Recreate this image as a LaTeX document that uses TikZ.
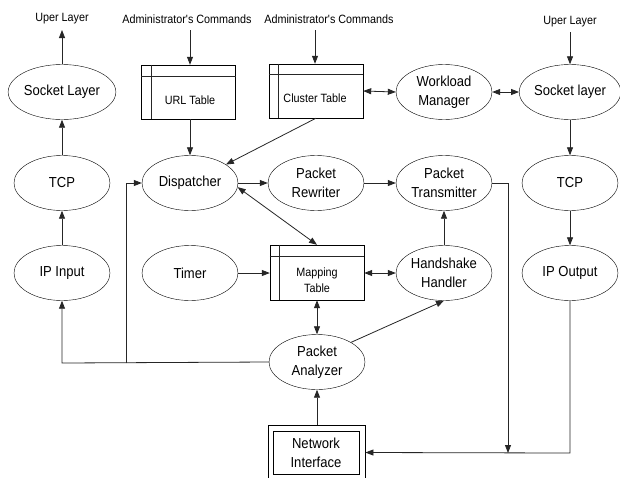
\documentclass[tikz,border=0pt]{standalone}
\usepackage{fontspec}
\newfontfamily\lsans{Liberation Sans}[FakeStretch=0.9]
\usetikzlibrary{shapes.geometric,arrows.meta}
\tikzset{
  ell/.style={draw, ellipse, minimum width=96pt, minimum height=55pt, inner sep=0pt, align=center, font=\lsans\fontsize{14.5}{19}\selectfont},
  tbl/.style={draw, rectangle, minimum width=94pt, minimum height=54pt, inner sep=0pt},
  tbltext/.style={inner sep=0pt, align=center, font=\lsans\fontsize{12}{16}\selectfont},
  small/.style={inner sep=0pt, font=\lsans\fontsize{12}{13}\selectfont},
  conn/.style={line width=0.8pt, draw=black!85},
  arr/.style={conn, -{Triangle[length=8pt,width=6pt]}},
  darr/.style={conn, {Triangle[length=8pt,width=6pt]}-{Triangle[length=8pt,width=6pt]}},
}
\begin{document}
\begin{tikzpicture}[x=1pt,y=-1pt]
\clip (0,0) rectangle (620,477);
\fill[white] (0,0) rectangle (620,477);

% top texts
\node[small] (upl) at (62,19) {Uper Layer};
\node[small] (adm1) at (187,19) {Administrator's Commands};
\node[small] (adm2) at (329,19) {Administrator's Commands};
\node[small] (upr) at (570,22) {Uper Layer};
\coordinate (uplend) at (62,30);
\coordinate (adm1s) at (190,30);
\coordinate (adm2s) at (315,30);
\coordinate (uprs) at (570,32);

% left column
\node[ell] (sockl) at (62,92) {Socket Layer};
\node[ell] (tcpl) at (62,183) {TCP};
\node[ell] (ipin) at (62,273) {IP Input};

% tables
\node[tbl] (url) at (188.5,92) {};
\draw[conn] ([xshift=10pt]url.north west) -- ([xshift=10pt]url.south west);
\draw[conn] ([yshift=-12pt]url.north west) -- ([yshift=-12pt]url.north east);
\node[tbltext] (urlt) at (190,100) {URL Table};

\node[tbl] (clust) at (316,91) {};
\draw[conn] ([xshift=10pt]clust.north west) -- ([xshift=10pt]clust.south west);
\draw[conn] ([yshift=-11pt]clust.north west) -- ([yshift=-11pt]clust.north east);
\node[tbltext] (clustt) at (315,98) {Cluster Table};

\node[tbl, minimum height=55pt] (map) at (317,272.5) {};
\draw[conn] ([xshift=10pt]map.north west) -- ([xshift=10pt]map.south west);
\draw[conn] ([yshift=-12pt]map.north west) -- ([yshift=-12pt]map.north east);
\node[tbltext] (mapt) at (317,280) {Mapping\\Table};

% middle
\node[ell] (wm) at (444,92) {Workload\\Manager};
\node[ell] (sockr) at (570,92) {Socket layer};
\node[ell] (disp) at (190,183) {Dispatcher};
\node[ell] (prw) at (316,183) {Packet\\Rewriter};
\node[ell] (ptx) at (444,183) {Packet\\Transmitter};
\node[ell] (tcpr) at (570,183) {TCP};
\node[ell] (timer) at (190,273) {Timer};
\node[ell] (hs) at (444,273) {Handshake\\Handler};
\node[ell] (ipout) at (570,273) {IP Output};
\node[ell] (pa) at (317,362) {Packet\\Analyzer};

% network interface
\node[draw, rectangle, line width=0.8pt, minimum width=97pt, minimum height=55pt, inner sep=0pt] (ni) at (316.5,452.5) {};
\node[draw, rectangle, line width=0.8pt, minimum width=86pt, minimum height=43pt, inner sep=0pt, align=center, font=\lsans\fontsize{14.5}{19}\selectfont] (nii) at (316,452.5) {Network\\Interface};

% connectors
\draw[arr] (sockl.north) -- (uplend);
\draw[arr] (tcpl.north) -- (sockl.south);
\draw[arr] (ipin.north) -- (tcpl.south);
\draw[arr] (adm1s) -- (url.north -| adm1s);
\draw[arr] (adm2s) -- (clust.north -| adm2s);
\draw[arr] (uprs) -- (sockr.north);
\draw[arr] (url.south -| disp.north) -- (disp.north);
\draw[arr] (clust.south) -- (disp);
\draw[darr] (clust.east) -- (wm.west);
\draw[darr] (wm.east) -- (sockr.west);
\draw[arr] (sockr.south) -- (tcpr.north);
\draw[arr] (tcpr.south) -- (ipout.north);
\draw[arr] (disp.east) -- (prw.west);
\draw[arr] (prw.east) -- (ptx.west);
\draw[darr] (disp.-5) -- (map.north);
\draw[arr] (timer.east) -- (map.west |- timer.east);
\draw[darr] (map.east |- hs.west) -- (hs.west);
\draw[arr] (hs.north) -- (ptx.south);
\draw[darr] (pa.north) -- (map.south -| pa.north);
\draw[arr] (pa.30) -- (hs.south);
\draw[arr] (ni.north -| pa.south) -- (pa.south);

\coordinate (paw) at (62,363);
\coordinate (br) at (126,363);
\coordinate (brtop) at (126,183);
\draw[arr] (pa.west) -- (paw) -- (ipin.south);
\draw[arr] (br) -- (brtop) -- (disp.west);

\coordinate (ptxr) at (508,183);
\coordinate (ptxd) at (508,453);
\draw[arr] (ptx.east) -- (ptxr) -- (ptxd);
\coordinate (ipod) at (570,453);
\draw[arr] (ipout.south) -- (ipod) -- (ni.east);
\end{tikzpicture}
\end{document}
